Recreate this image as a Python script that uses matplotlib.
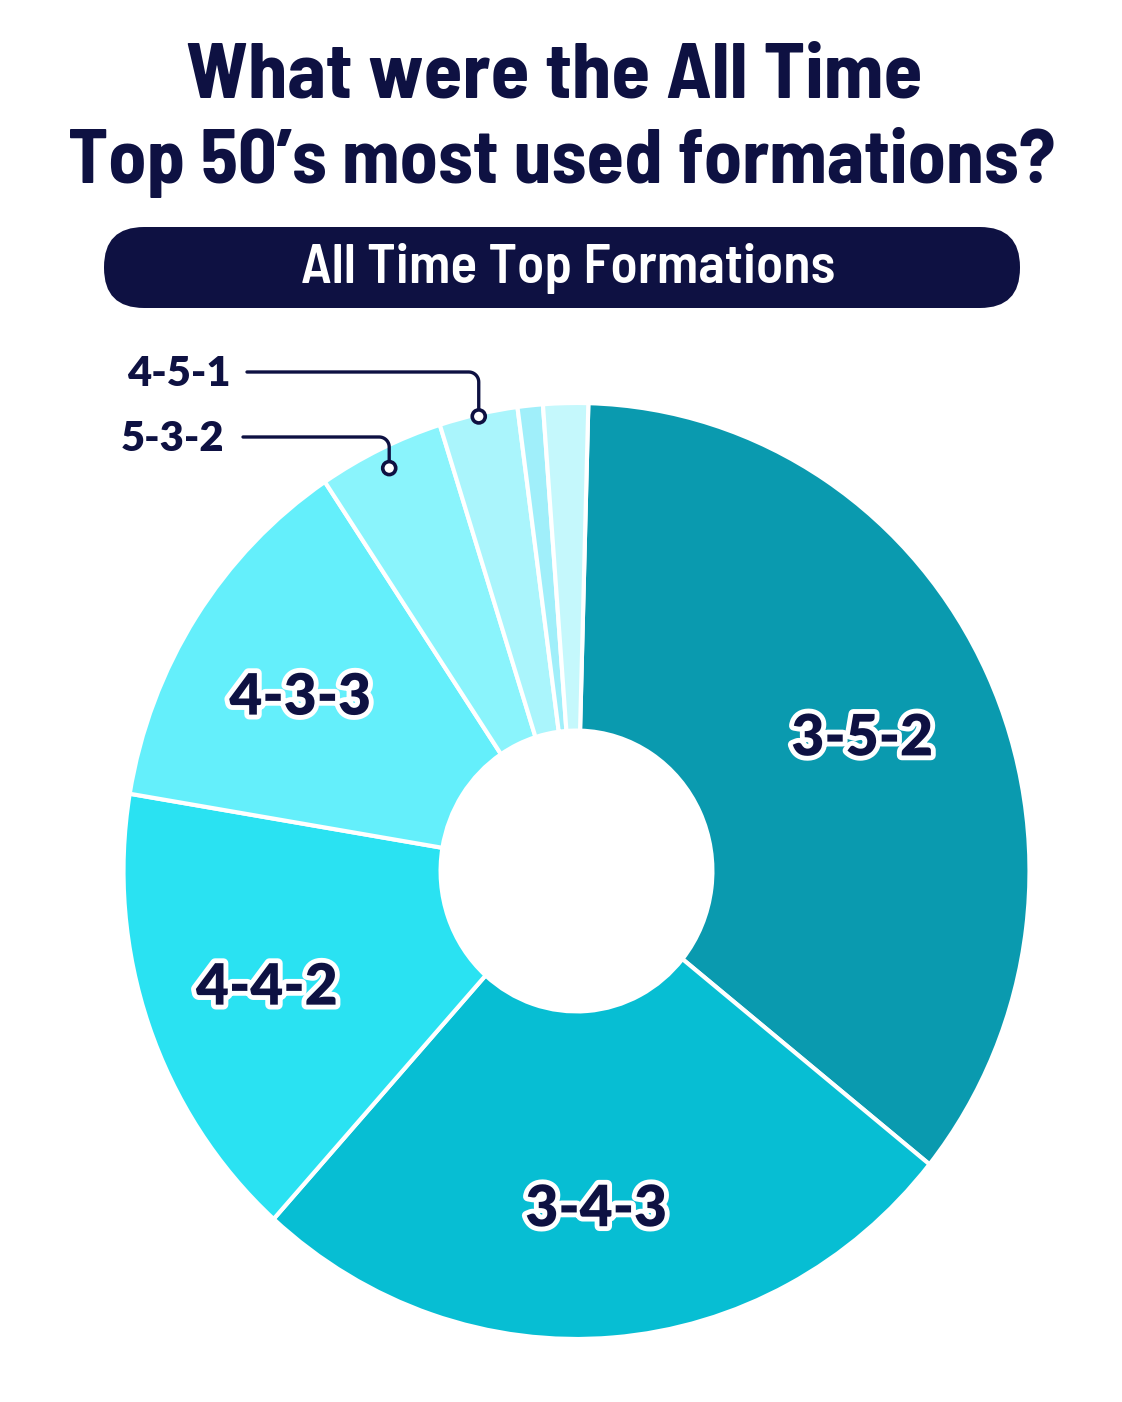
import matplotlib.pyplot as plt
import matplotlib.patheffects as pe
import numpy as np
from matplotlib.patches import FancyBboxPatch, Ellipse

#
# Data
#
formations = ["3-5-2", "3-4-3", "4-4-2", "4-3-3", "5-3-2", "4-5-1", "Other A", "Other B"]
shares = [35.4, 25.9, 16.0, 13.0, 4.5, 2.8, 0.9, 1.6]
inside_labels = ["3-5-2", "3-4-3", "4-4-2", "4-3-3"]
callout_labels = ["4-5-1", "5-3-2"]

title_lines = ["What were the All Time", "Top 50\u2019s most used formations?"]
subtitle = "All Time Top Formations"

#
# Style
#
NAVY = "#0E1142"
colors = ["#0A9AAF", "#07BED3", "#2AE2F2", "#64EFFB", "#8AF4FC", "#AAF5FC", "#A0EFFA", "#C5F8FC"]
TITLE_FONT = ["Barlow Semi Condensed", "Asap Condensed", "DejaVu Sans"]
LABEL_FONT = ["Lato", "DejaVu Sans"]

W, H = 1122, 1402
fig = plt.figure(figsize=(W / 100, H / 100), dpi=100)

#
# Text / decoration layer in pixel coordinates
#
ax = fig.add_axes([0, 0, 1, 1])
ax.set_xlim(0, W)
ax.set_ylim(0, H)
ax.axis("off")

#
# Donut layer: unit pie, stretched slightly taller than wide like the reference
#
cx, cy = 576.5, 871          # pixel centre (from top)
rx, ry = 453, 468            # outer radius in pixels
pie_ax = fig.add_axes([0, 0, 1, 1], zorder=0)
ax.set_zorder(1)
ax.patch.set_alpha(0)

wedges, _ = pie_ax.pie(
    shares,
    colors=colors,
    startangle=88.5,
    counterclock=False,
    radius=1.0,
    wedgeprops=dict(width=0.70, edgecolor="white", linewidth=3),
)
pie_ax.set_aspect("auto")
pie_ax.set_xlim(-cx / rx, (W - cx) / rx)
pie_ax.set_ylim(-(H - cy) / ry, cy / ry)
pie_ax.axis("off")


def to_px(wedge, r):
    ang = np.deg2rad((wedge.theta1 + wedge.theta2) / 2)
    return cx + r * rx * np.cos(ang), (H - cy) + r * ry * np.sin(ang)


#
# Inside labels
#
for name in inside_labels:
    w = wedges[formations.index(name)]
    x, y = to_px(w, 0.71)
    ax.text(
        x - 6, y - 7, name,
        ha="center", va="center",
        fontsize=41, fontweight="heavy", family=LABEL_FONT, color=NAVY,
        path_effects=[pe.withStroke(linewidth=7, foreground="white")],
    )

#
# Callouts
#
callout_pos = {
    "4-5-1": dict(r=0.995, text_x=231, line_y=H - 372, line_x0=247),
    "5-3-2": dict(r=0.955, text_x=224, line_y=H - 437, line_x0=243),
}
for name in callout_labels:
    w = wedges[formations.index(name)]
    p = callout_pos[name]
    dx, dy = to_px(w, p["r"])
    ly = p["line_y"]
    corner = 10
    xs = [p["line_x0"], dx - corner]
    ys = [ly, ly]
    t = np.linspace(np.pi / 2, 0, 12)
    xs += list(dx - corner + corner * np.cos(t))
    ys += list(ly - corner + corner * np.sin(t))
    xs += [dx]
    ys += [dy + 6]
    ax.plot(xs, ys, color=NAVY, linewidth=2.4, solid_capstyle="round")
    ax.add_patch(Ellipse((dx, dy), 13, 13, facecolor="white", edgecolor=NAVY, linewidth=2.6, zorder=5))
    ax.text(
        p["text_x"], ly - 2, name,
        ha="right", va="center",
        fontsize=30, fontweight="heavy", family=LABEL_FONT, color=NAVY,
    )

#
# Title
#
ax.text(554, H - 78, title_lines[0], ha="center", va="center",
        fontsize=57, fontweight="bold", family=TITLE_FONT, color=NAVY)
ax.text(562, H - 162, title_lines[1], ha="center", va="center",
        fontsize=55, fontweight="bold", family=TITLE_FONT, color=NAVY)

#
# Subtitle pill
#
pill = FancyBboxPatch(
    (104 + 40, H - 308 + 40), 916 - 80, 81 - 80,
    boxstyle="round,pad=40",
    facecolor=NAVY, edgecolor="none",
)
ax.add_patch(pill)
ax.text(568, H - 268, subtitle, ha="center", va="center",
        fontsize=40, fontweight="semibold", family=TITLE_FONT, color="white")

fig.savefig("out.png", dpi=100, facecolor="white")
